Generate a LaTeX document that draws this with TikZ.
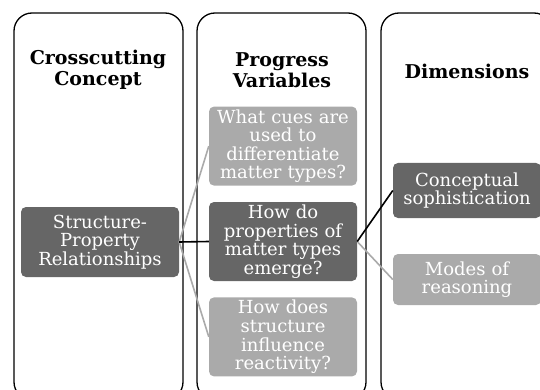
\documentclass[tikz,border=0pt]{standalone}
\usepackage{fontspec}
\setmainfont{DejaVu Serif}
\usepackage{tikz}
\usetikzlibrary{positioning}
\definecolor{darkbox}{RGB}{102,102,102}
\definecolor{lightbox}{RGB}{170,170,170}
\tikzset{
    concept map/.style={
            x=1pt,y=-1pt,
            panel/.style={draw,line width=1.3pt,rounded corners=18pt},
            heading/.style={font=\bfseries\fontsize{19}{21}\selectfont,align=center},
            darkcell/.style={fill=darkbox,text=white,rounded corners=5pt,align=center,
                    font=\fontsize{18}{18.6}\selectfont,inner sep=2pt,
                    text width=144pt,minimum height=79pt},
            lightcell/.style={darkcell,fill=lightbox},
            strong/.style={line width=1.6pt},
            weak/.style={line width=1.6pt,draw=lightbox}
        }
    }

\begin{document}
\begin{tikzpicture}[concept map]
        \clip (0,0) rectangle (540,390);
        \draw [panel] (14,13) rectangle (183,400);
        \draw [panel] (197,13) rectangle (366,400);
        \draw [panel] (381,13) rectangle (552,400);

        \node [heading] (cc) at (98,70) {Crosscutting\\Concept};
        \node [heading] (pv) at (282,70) {Progress\\Variables};
        \node [heading] (dim) at (467,71) {Dimensions};

        \node [darkcell, text width=154pt, minimum height=70pt] (SPR) at (100,242) {Structure-\\Property\\Relationships};
        \node [darkcell] (Q2) at (283,241.5) {How do\\properties of\\matter types\\emerge?};
        \node [lightcell] (Q1) [above=16pt of Q2] {What cues are\\used to\\differentiate\\matter types?};
        \node [lightcell] (Q3) [below=16pt of Q2] {How does\\structure\\influence\\reactivity?};
        \node [darkcell, minimum height=55pt] (CS) at (467,190.5) {Conceptual\\sophistication};
        \node [lightcell, minimum height=51pt] (MR) at (467,279.5) {Modes of\\reasoning};

        \draw [weak] (SPR.east) -- (Q1.west);
        \draw [weak] (SPR.east) -- (Q3.west);
        \draw [strong] (SPR.east) -- (Q2.west);
        \draw [weak] (Q2.east) -- (MR.west);
        \draw [strong] (Q2.east) -- (CS.west);
    \end{tikzpicture}
\end{document}
